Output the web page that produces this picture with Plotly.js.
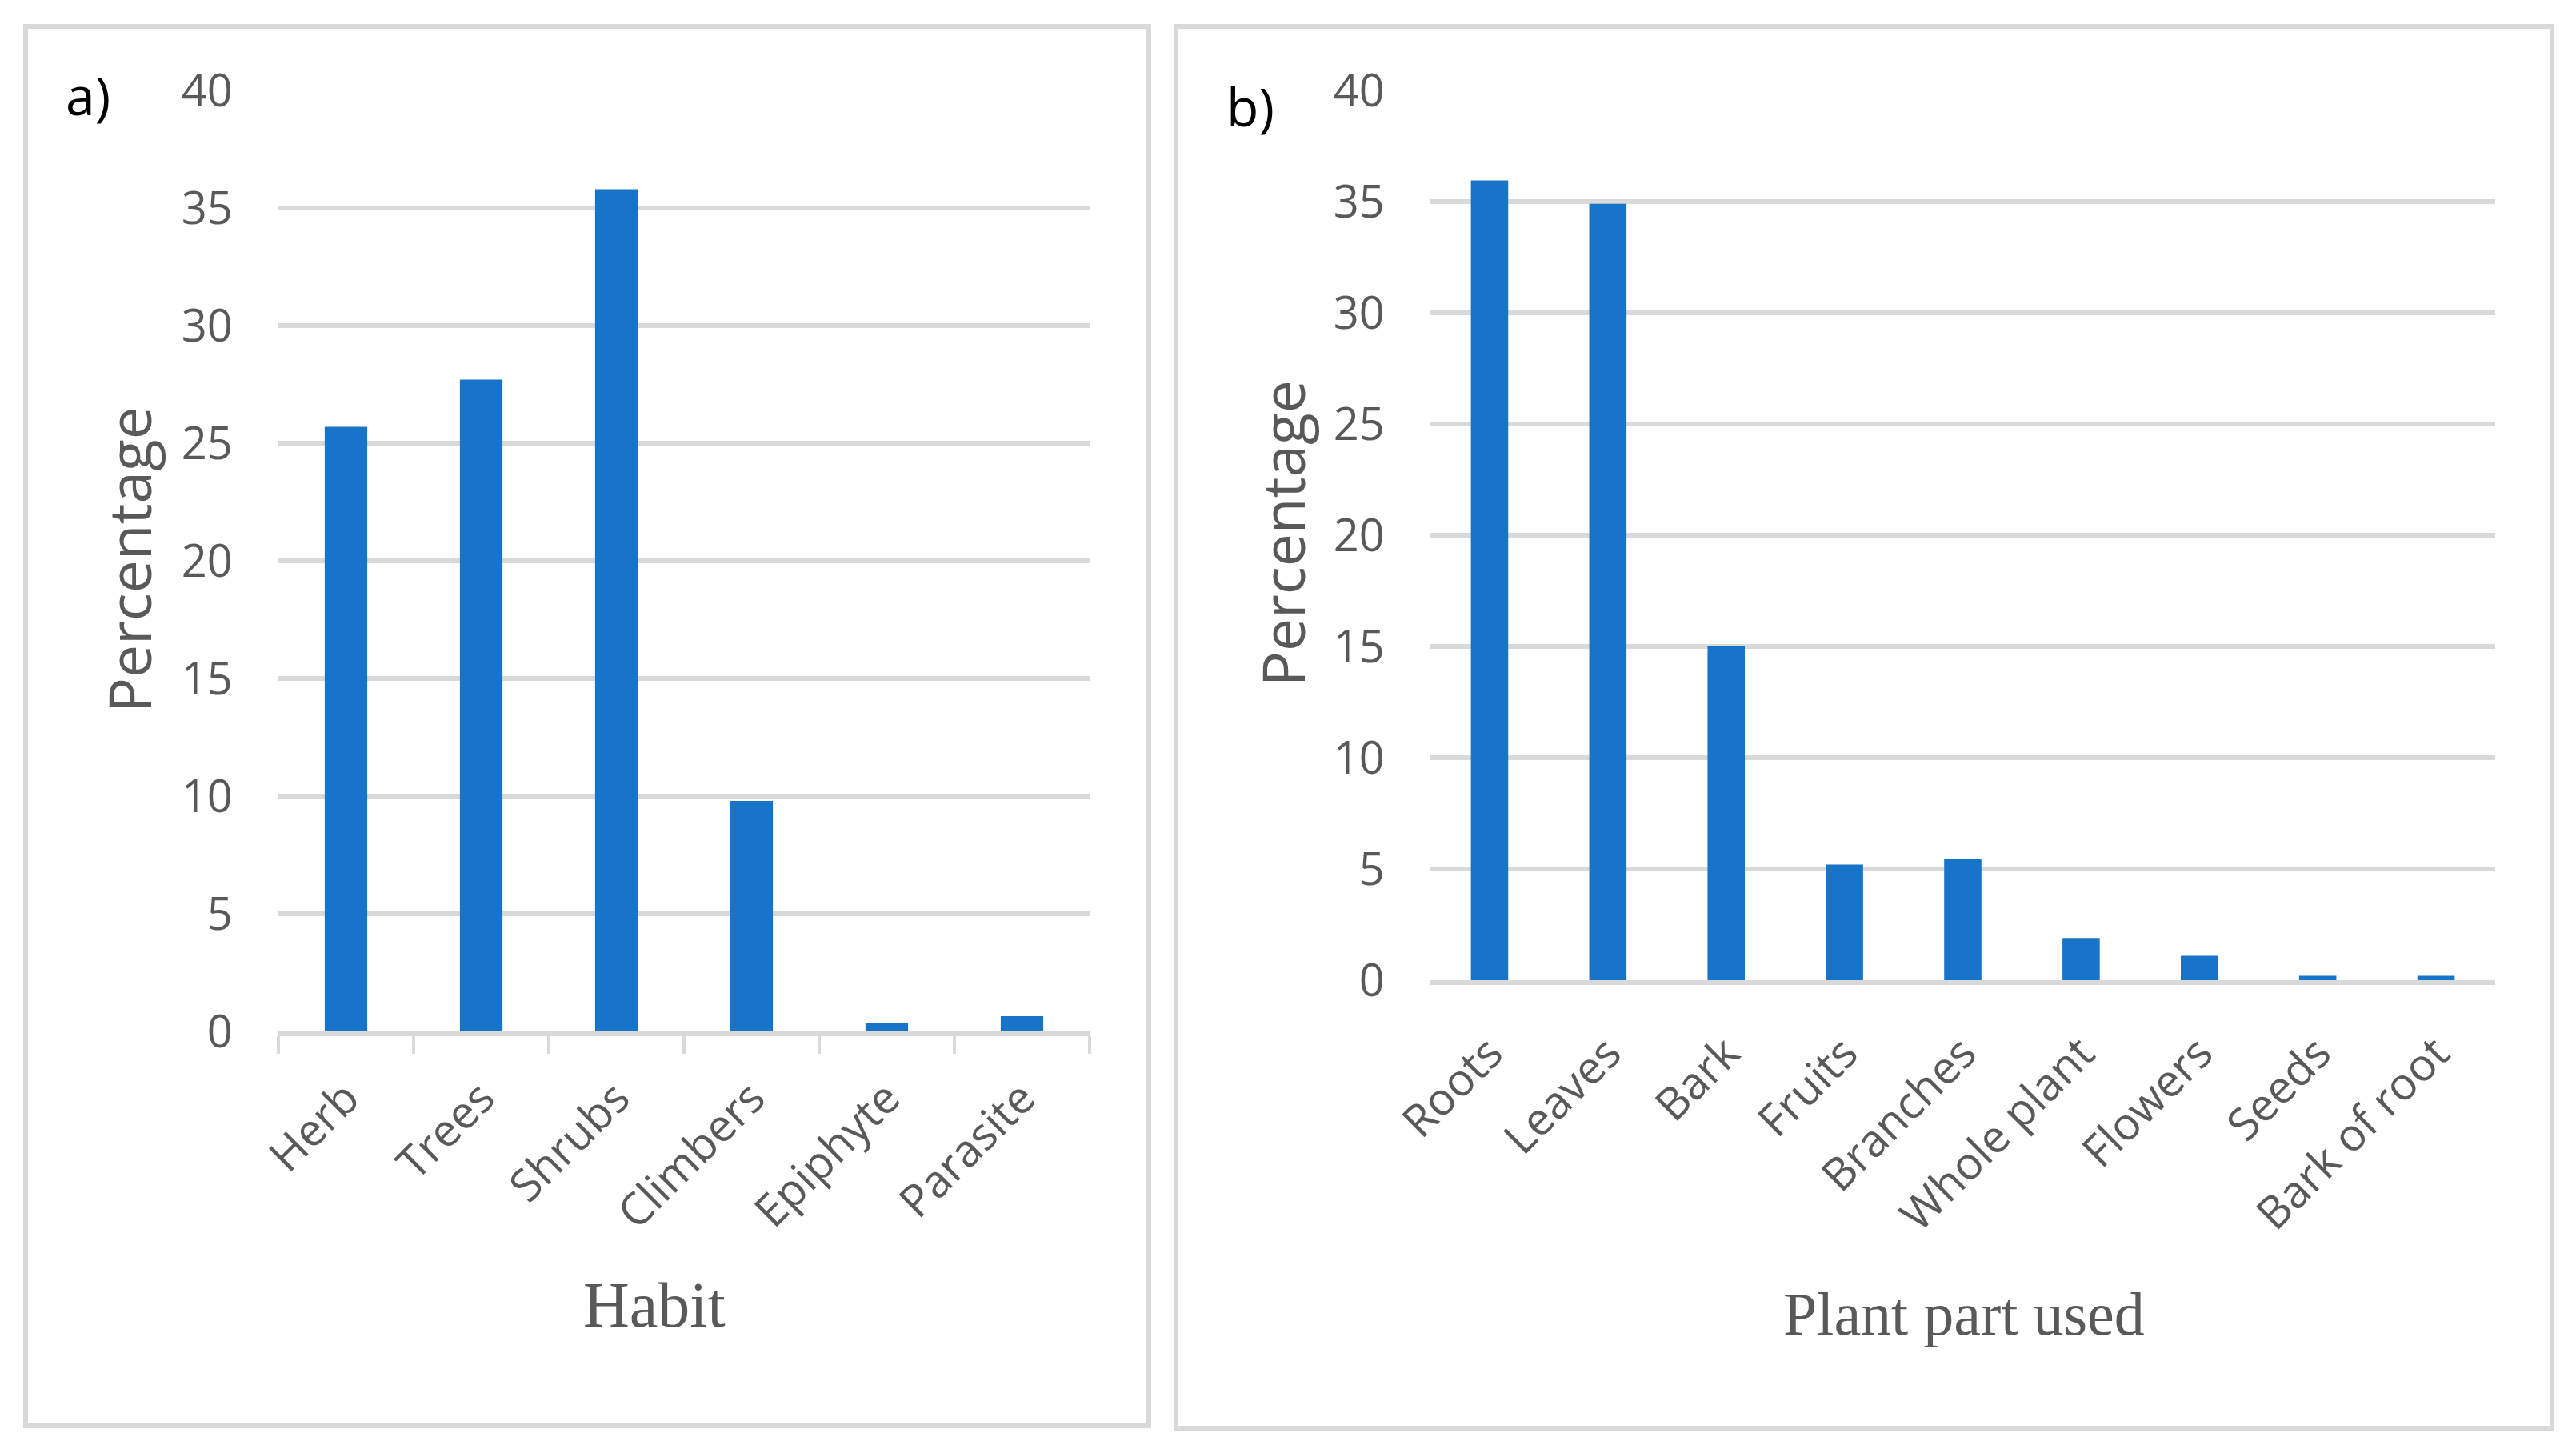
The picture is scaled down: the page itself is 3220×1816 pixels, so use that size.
<!DOCTYPE html>
<html>
<head>
<meta charset="utf-8">
<script src="https://cdn.plot.ly/plotly-3.0.1.min.js"></script>
<style>
html,body{margin:0;padding:0;background:#fff;}
#chart{width:3220px;height:1816px;}
</style>
</head>
<body>
<div id="chart"></div>
<script>
// Panel a: Habit
const habitCategories = ["Herb", "Trees", "Shrubs", "Climbers", "Epiphyte", "Parasite"];
const habitValues = [25.7, 27.7, 35.8, 9.8, 0.34, 0.65];

// Panel b: Plant part used
const partCategories = ["Roots", "Leaves", "Bark", "Fruits", "Branches", "Whole plant", "Flowers", "Seeds", "Bark of root"];
const partValues = [35.95, 34.9, 15.0, 5.2, 5.45, 1.9, 1.1, 0.2, 0.2];

const yTickValues = [0, 5, 10, 15, 20, 25, 30, 35, 40];

const W = 3220, H = 1816;
const px = x => x / W;
const py = y => 1 - y / H;

const barColor = "#1874c9";
const gridColor = "#d9d9d9";
const textGray = "#595959";
const tickFont = {family: "Open Sans, sans-serif", size: 56, color: textGray};

const traces = [
  {type: "bar", x: habitCategories, y: habitValues, xaxis: "x", yaxis: "y",
   marker: {color: barColor}, hoverinfo: "x+y", showlegend: false},
  {type: "bar", x: partCategories, y: partValues, xaxis: "x2", yaxis: "y2",
   marker: {color: barColor}, hoverinfo: "x+y", showlegend: false}
];

const yaxisCommon = {
  range: [0, 40], tickvals: yTickValues, ticktext: yTickValues.map(String),
  showgrid: true, gridcolor: gridColor, gridwidth: 6,
  zeroline: false, showline: false,
  ticks: "outside", ticklen: 45, tickcolor: "rgba(0,0,0,0)",
  tickfont: tickFont, fixedrange: true
};

const layout = {
  width: W, height: H,
  margin: {l: 0, r: 0, t: 0, b: 0},
  paper_bgcolor: "#ffffff", plot_bgcolor: "#ffffff",
  bargap: 0.685,
  showlegend: false,
  xaxis: {
    domain: [px(348), px(1362)], anchor: "y",
    type: "category", tickangle: -45, tickfont: tickFont,
    showline: true, linecolor: gridColor, linewidth: 6, layer: "below traces",
    ticks: "outside", tickson: "boundaries", ticklen: 22, tickwidth: 4, tickcolor: gridColor,
    ticklabelstandoff: 22,
    showgrid: false, zeroline: false, fixedrange: true
  },
  yaxis: Object.assign({}, yaxisCommon, {domain: [py(1289), py(113)], anchor: "x"}),
  xaxis2: {
    domain: [px(1788), px(3119)], anchor: "y2",
    type: "category", tickangle: -45, tickfont: tickFont,
    showline: true, linecolor: gridColor, linewidth: 6, layer: "below traces",
    ticks: "outside", ticklen: 30, tickcolor: "rgba(0,0,0,0)",
    showgrid: false, zeroline: false, fixedrange: true
  },
  yaxis2: Object.assign({}, yaxisCommon, {domain: [py(1225), py(113)], anchor: "x2"}),
  shapes: [
    {type: "rect", xref: "paper", yref: "paper",
     x0: px(32), x1: px(1436), y0: py(1782), y1: py(33),
     line: {color: gridColor, width: 6}, fillcolor: "rgba(0,0,0,0)", layer: "below"},
    {type: "rect", xref: "paper", yref: "paper",
     x0: px(1470), x1: px(3190), y0: py(1785), y1: py(33),
     line: {color: gridColor, width: 6}, fillcolor: "rgba(0,0,0,0)", layer: "below"}
  ],
  annotations: [
    {text: "a)", xref: "paper", yref: "paper", x: px(110), y: py(118),
     xanchor: "center", yanchor: "middle", showarrow: false,
     font: {family: "Open Sans, sans-serif", size: 66, color: "#000000"}},
    {text: "b)", xref: "paper", yref: "paper", x: px(1563), y: py(132),
     xanchor: "center", yanchor: "middle", showarrow: false,
     font: {family: "Open Sans, sans-serif", size: 66, color: "#000000"}},
    {text: "Percentage", xref: "paper", yref: "paper", x: px(160), y: py(700),
     xanchor: "center", yanchor: "middle", textangle: -90, showarrow: false,
     font: {family: "Open Sans, sans-serif", size: 73, color: textGray}},
    {text: "Percentage", xref: "paper", yref: "paper", x: px(1602), y: py(667),
     xanchor: "center", yanchor: "middle", textangle: -90, showarrow: false,
     font: {family: "Open Sans, sans-serif", size: 73, color: textGray}},
    {text: "Habit", xref: "paper", yref: "paper", x: px(818), y: py(1631),
     xanchor: "center", yanchor: "middle", showarrow: false,
     font: {family: "Liberation Serif, Times New Roman, serif", size: 80, color: textGray}},
    {text: "Plant part used", xref: "paper", yref: "paper", x: px(2455), y: py(1642),
     xanchor: "center", yanchor: "middle", showarrow: false,
     font: {family: "Liberation Serif, Times New Roman, serif", size: 76, color: textGray}}
  ]
};

Plotly.newPlot("chart", traces, layout, {displayModeBar: false, staticPlot: true});
</script>
</body>
</html>
